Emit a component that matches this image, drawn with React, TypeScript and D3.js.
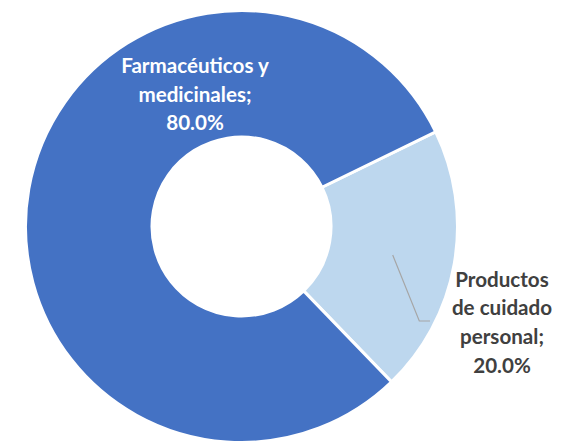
import React from "react";
import * as d3 from "d3";

const categories = ["Productos de cuidado personal", "Farmacéuticos y medicinales"];
const values = [20.0, 80.0];
const colors = ["#BDD7EE", "#4472C4"];
const labelLines = [
  ["Productos", "de cuidado", "personal;", "20.0%"],
  ["Farmacéuticos y", "medicinales;", "80.0%"],
];

const W = 562, H = 442;
const cx = 241.5, cy = 226.5;
const R = 216, r = 89.5;

export default function App() {
  const pie = d3.pie<number>().sort(null).value((d) => d)
    .startAngle((64 * Math.PI) / 180)
    .endAngle((64 * Math.PI) / 180 + 2 * Math.PI);
  const arcs = pie(values);
  const arc = d3.arc<d3.PieArcDatum<number>>().innerRadius(r).outerRadius(R);
  const font = "Lato, 'Open Sans', sans-serif";
  const lineH = 28.6;
  return (
    <svg width={W} height={H} style={{ position: "absolute", left: 0, top: 0 }}>
      <rect width={W} height={H} fill="#fff" />
      <g transform={`translate(${cx},${cy})`}>
        {arcs.map((a, i) => (
          <path key={categories[i]} d={arc(a) || ""} fill={colors[i]} stroke="#fff" strokeWidth={3} />
        ))}
      </g>
      <polyline points="392.7,255 419.3,321 430,321" fill="none" stroke="#A6A6A6" strokeWidth={1.2} />
      <text fontFamily={font} fontWeight="bold" fontSize={20.6} fill="#404040" textAnchor="middle">
        {labelLines[0].map((l, j) => (
          <tspan key={j} x={502} y={286.7 + j * lineH}>{l}</tspan>
        ))}
      </text>
      <text fontFamily={font} fontWeight="bold" fontSize={20.6} fill="#fff" textAnchor="middle">
        {labelLines[1].map((l, j) => (
          <tspan key={j} x={195} y={73 + j * lineH}>{l}</tspan>
        ))}
      </text>
    </svg>
  );
}
